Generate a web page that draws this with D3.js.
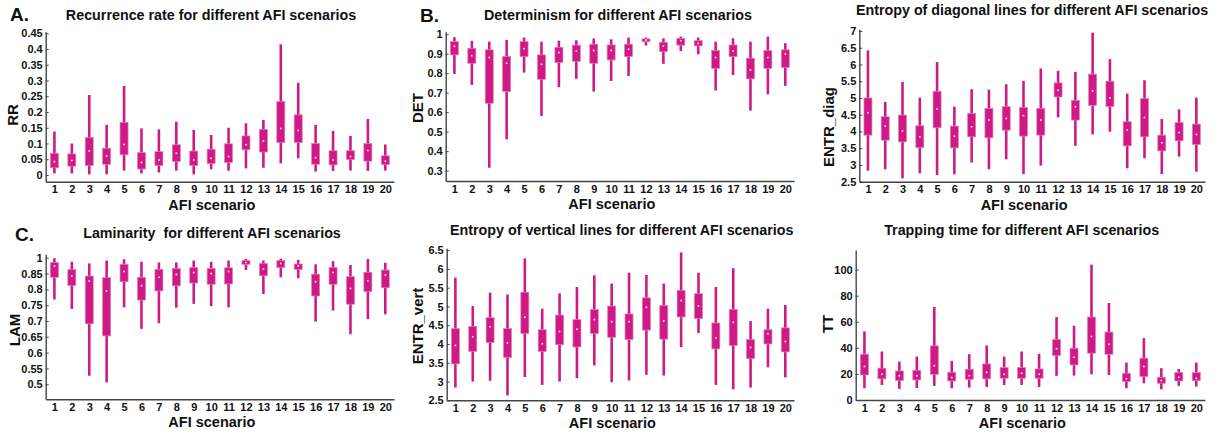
<!DOCTYPE html>
<html>
<head>
<meta charset="utf-8">
<script src="https://cdn.jsdelivr.net/npm/d3@7"></script>
<style>
  body { margin: 0; background: #fff; }
  svg text { font-family: "Helvetica Neue", Arial, "Liberation Sans", sans-serif; font-weight: bold; fill: #111; }
</style>
</head>
<body>
<svg id="chart" width="1229" height="437"></svg>
<script>
// AFI scenarios (x categories)
const scenarios = [1, 2, 3, 4, 5, 6, 7, 8, 9, 10, 11, 12, 13, 14, 15, 16, 17, 18, 19, 20];

// each row: [whisker low, q1, median, q3, whisker high]
const rrStats = [
  [0.005, 0.023, 0.042, 0.069, 0.138], [0.005, 0.028, 0.046, 0.067, 0.100],
  [0.002, 0.030, 0.076, 0.119, 0.254], [0.002, 0.034, 0.060, 0.085, 0.159],
  [0.014, 0.064, 0.097, 0.167, 0.283], [0.005, 0.019, 0.040, 0.071, 0.148],
  [0.008, 0.030, 0.048, 0.074, 0.145], [0.014, 0.043, 0.069, 0.096, 0.169],
  [0.002, 0.030, 0.048, 0.076, 0.143], [0.018, 0.037, 0.053, 0.082, 0.127],
  [0.014, 0.040, 0.059, 0.099, 0.150], [0.021, 0.080, 0.096, 0.124, 0.164],
  [0.023, 0.073, 0.108, 0.145, 0.175], [0.037, 0.103, 0.148, 0.233, 0.415],
  [0.053, 0.103, 0.141, 0.191, 0.293], [0.011, 0.034, 0.055, 0.100, 0.159],
  [0.013, 0.032, 0.048, 0.077, 0.140], [0.014, 0.049, 0.059, 0.077, 0.124],
  [0.013, 0.044, 0.078, 0.100, 0.178], [0.014, 0.033, 0.044, 0.061, 0.097]
];

const detStats = [
  [0.796, 0.894, 0.938, 0.962, 0.985], [0.740, 0.851, 0.890, 0.928, 0.966],
  [0.315, 0.646, 0.880, 0.920, 0.962], [0.461, 0.706, 0.851, 0.885, 0.971],
  [0.803, 0.885, 0.925, 0.962, 0.983], [0.581, 0.769, 0.846, 0.894, 0.962],
  [0.728, 0.855, 0.906, 0.933, 0.967], [0.771, 0.861, 0.914, 0.944, 0.969],
  [0.706, 0.851, 0.916, 0.949, 0.978], [0.760, 0.868, 0.916, 0.945, 0.974],
  [0.786, 0.885, 0.923, 0.949, 0.983], [0.942, 0.962, 0.971, 0.976, 0.983],
  [0.848, 0.911, 0.940, 0.959, 0.979], [0.914, 0.944, 0.966, 0.979, 0.988],
  [0.897, 0.940, 0.954, 0.967, 0.983], [0.711, 0.825, 0.880, 0.916, 0.962],
  [0.791, 0.885, 0.914, 0.945, 0.979], [0.608, 0.771, 0.817, 0.877, 0.962],
  [0.692, 0.825, 0.880, 0.916, 0.988], [0.735, 0.829, 0.899, 0.920, 0.954]
];

const diagStats = [
  [2.83, 3.89, 4.56, 5.00, 6.42], [2.87, 3.74, 4.16, 4.44, 4.88],
  [2.60, 3.69, 4.01, 4.49, 5.48], [2.75, 3.52, 3.84, 4.17, 5.01],
  [2.70, 4.11, 4.67, 5.20, 6.07], [2.72, 3.51, 3.86, 4.16, 4.74],
  [3.07, 3.84, 4.14, 4.54, 5.26], [2.87, 3.81, 4.34, 4.69, 5.25],
  [3.17, 4.04, 4.39, 4.74, 5.41], [2.73, 3.86, 4.47, 4.72, 5.51],
  [2.98, 3.89, 4.34, 4.69, 5.88], [4.42, 5.03, 5.23, 5.45, 5.81],
  [3.57, 4.34, 4.74, 4.93, 5.78], [3.91, 4.78, 5.21, 5.71, 6.95],
  [3.99, 4.75, 5.00, 5.50, 6.16], [2.90, 3.57, 4.04, 4.29, 5.13],
  [3.20, 3.84, 4.42, 4.98, 5.53], [2.73, 3.42, 3.66, 3.89, 4.37],
  [3.25, 3.72, 3.97, 4.27, 4.66], [2.80, 3.61, 3.91, 4.22, 5.01]
];

// LAM values are read against the tick positions (top tick sits where 0.9 would be)
const lamStats = [
  [0.768, 0.838, 0.874, 0.885, 0.898], [0.738, 0.812, 0.842, 0.863, 0.887],
  [0.527, 0.691, 0.826, 0.842, 0.882], [0.506, 0.653, 0.795, 0.837, 0.891],
  [0.743, 0.824, 0.856, 0.879, 0.895], [0.675, 0.766, 0.811, 0.838, 0.887],
  [0.693, 0.795, 0.838, 0.863, 0.885], [0.742, 0.811, 0.847, 0.866, 0.885],
  [0.754, 0.820, 0.853, 0.869, 0.891], [0.747, 0.816, 0.850, 0.866, 0.887],
  [0.743, 0.817, 0.856, 0.868, 0.891], [0.861, 0.879, 0.885, 0.891, 0.896],
  [0.785, 0.843, 0.864, 0.882, 0.891], [0.838, 0.869, 0.882, 0.891, 0.897],
  [0.835, 0.863, 0.874, 0.880, 0.893], [0.698, 0.779, 0.824, 0.848, 0.879],
  [0.733, 0.816, 0.853, 0.869, 0.889], [0.658, 0.753, 0.803, 0.840, 0.877],
  [0.706, 0.793, 0.827, 0.854, 0.896], [0.721, 0.805, 0.845, 0.861, 0.884]
];

const vertStats = [
  [2.84, 3.47, 3.96, 4.41, 5.77], [3.00, 3.80, 4.19, 4.47, 5.01],
  [3.02, 4.04, 4.46, 4.70, 5.37], [2.63, 3.64, 4.03, 4.41, 5.32],
  [3.12, 4.28, 4.71, 5.38, 6.28], [2.91, 3.80, 4.01, 4.38, 4.94],
  [3.00, 3.98, 4.33, 4.77, 5.35], [3.09, 3.92, 4.39, 4.65, 5.52],
  [3.43, 4.28, 4.65, 4.92, 5.83], [2.98, 4.18, 4.59, 5.01, 5.61],
  [3.03, 4.12, 4.59, 4.80, 5.90], [3.18, 4.37, 4.98, 5.23, 5.84],
  [3.16, 4.13, 4.61, 5.03, 5.61], [3.92, 4.72, 5.16, 5.43, 6.44],
  [4.29, 4.68, 5.01, 5.34, 5.90], [2.91, 3.87, 4.16, 4.56, 5.52],
  [2.79, 3.96, 4.58, 4.92, 6.02], [2.84, 3.61, 3.91, 4.12, 4.61],
  [3.38, 4.00, 4.27, 4.38, 4.94], [3.11, 3.79, 4.07, 4.43, 5.04]
];

const ttStats = [
  [9.0, 19.2, 25.6, 35.1, 52.6], [11.5, 16.2, 19.7, 24.4, 37.2],
  [8.5, 14.9, 18.5, 22.3, 29.5], [9.2, 15.4, 18.5, 22.8, 33.3],
  [10.8, 19.7, 26.2, 41.5, 71.3], [9.0, 14.6, 17.2, 21.3, 30.0],
  [9.5, 15.9, 18.5, 23.6, 35.1], [10.0, 16.2, 21.3, 27.7, 41.8],
  [11.5, 16.7, 19.7, 24.9, 33.3], [11.5, 16.7, 20.5, 24.9, 37.2],
  [10.0, 16.7, 19.7, 23.8, 35.4], [18.5, 34.1, 39.2, 46.4, 63.6],
  [18.7, 26.9, 32.8, 39.7, 56.9], [19.7, 35.9, 48.7, 63.6, 103.8],
  [19.2, 35.1, 42.8, 52.1, 74.4], [9.0, 14.1, 16.2, 20.5, 28.7],
  [12.8, 17.9, 25.6, 32.1, 47.4], [8.2, 12.8, 14.9, 17.4, 24.4],
  [10.8, 14.6, 17.4, 21.0, 23.8], [10.3, 14.9, 16.7, 21.0, 28.7]
];

// tick values / labels
const rrTicks = [0, 0.05, 0.1, 0.15, 0.2, 0.25, 0.3, 0.35, 0.4, 0.45];
const rrTickLabels = ["0", "0.05", "0.1", "0.15", "0.2", "0.25", "0.3", "0.35", "0.4", "0.45"];
const detTicks = [0.3, 0.4, 0.5, 0.6, 0.7, 0.8, 0.9, 1];
const detTickLabels = ["0.3", "0.4", "0.5", "0.6", "0.7", "0.8", "0.9", "1"];
const diagTicks = [2.5, 3, 3.5, 4, 4.5, 5, 5.5, 6, 6.5, 7];
const diagTickLabels = ["2.5", "3", "3.5", "4", "4.5", "5", "5.5", "6", "6.5", "7"];
const lamTicks = [0.5, 0.55, 0.6, 0.65, 0.7, 0.75, 0.8, 0.85, 0.9];
const lamTickLabels = ["0.5", "0.55", "0.6", "0.65", "0.7", "0.75", "0.8", "0.85", "1"];
const vertTicks = [2.5, 3, 3.5, 4, 4.5, 5, 5.5, 6, 6.5];
const vertTickLabels = ["2.5", "3", "3.5", "4", "4.5", "5", "5.5", "6", "6.5"];
const ttTicks = [0, 20, 40, 60, 80, 100];
const ttTickLabels = ["0", "20", "40", "60", "80", "100"];

const MAGENTA = "#cf1a85";

const svg = d3.select("#chart");

function drawPanel(p) {
    const g = svg.append("g");

    const x = d3.scaleLinear().domain([0.5, 20.5]).range([p.left, p.right]);
    const y = d3.scaleLinear().domain(p.domain).range([p.bottom, p.top]);

    // whiskers
    g.selectAll(".whisker")
        .data(p.stats)
        .enter()
        .append("line")
        .attr("x1", (d, i) => x(scenarios[i]))
        .attr("x2", (d, i) => x(scenarios[i]))
        .attr("y1", d => y(d[0]))
        .attr("y2", d => y(d[4]))
        .attr("stroke", MAGENTA)
        .attr("stroke-width", 2.6);

    // boxes
    g.selectAll(".box")
        .data(p.stats)
        .enter()
        .append("rect")
        .attr("x", (d, i) => x(scenarios[i]) - 4)
        .attr("width", 8)
        .attr("y", d => y(d[3]))
        .attr("height", d => Math.max(1.5, y(d[1]) - y(d[3])))
        .attr("fill", MAGENTA)
        .attr("stroke", "#e27bb7")
        .attr("stroke-width", 0.7);

    // median dots
    g.selectAll(".med")
        .data(p.stats)
        .enter()
        .append("circle")
        .attr("cx", (d, i) => x(scenarios[i]))
        .attr("cy", d => y(d[2]))
        .attr("r", 1)
        .attr("fill", "#f6d3e6");

    // axes
    const yAxis = d3.axisLeft(y)
        .tickValues(p.ticks)
        .tickFormat((d, i) => p.tickLabels[i])
        .tickSizeInner(-3)
        .tickSizeOuter(0)
        .tickPadding(3);
    const ya = g.append("g").attr("transform", `translate(${p.left},0)`).call(yAxis);

    const xAxis = d3.axisBottom(x)
        .tickValues(scenarios)
        .tickFormat(d3.format("d"))
        .tickSize(0)
        .tickPadding(4);
    const xa = g.append("g").attr("transform", `translate(0,${p.bottom})`).call(xAxis);

    [ya, xa].forEach(a => {
        a.select(".domain").attr("stroke", "#444").attr("stroke-width", 1.4);
        a.selectAll(".tick line").attr("stroke", "#444");
        a.selectAll("text").style("font-size", "11px").attr("fill", "#111");
    });

    // titles and labels
    g.append("text")
        .attr("x", p.titleX).attr("y", p.titleY)
        .attr("text-anchor", "middle")
        .style("font-size", "14.3px")
        .style("white-space", "pre")
        .text(p.title);

    g.append("text")
        .attr("x", p.left + (p.right - p.left) / 2 - 8).attr("y", p.bottom + 28)
        .attr("text-anchor", "middle")
        .style("font-size", "14.5px")
        .text("AFI scenario");

    g.append("text")
        .attr("transform", `translate(${p.left - p.ylabOffset},${p.ylabY}) rotate(-90)`)
        .attr("text-anchor", "middle")
        .style("font-size", "15px")
        .text(p.ylabel);

    if (p.letter) {
        g.append("text")
            .attr("x", p.letterX).attr("y", p.letterY)
            .style("font-size", "19px")
            .style("font-weight", "900")
            .text(p.letter);
    }
}

drawPanel({ stats: rrStats, ticks: rrTicks, tickLabels: rrTickLabels, domain: [-0.0213, 0.455],
    left: 45.7, right: 394, top: 31.7, bottom: 181.7,
    title: "Recurrence rate for different AFI scenarios", titleX: 211, titleY: 20,
    ylabel: "RR", ylabOffset: 28, ylabY: 115, letter: "A.", letterX: 10, letterY: 21 });

drawPanel({ stats: detStats, ticks: detTicks, tickLabels: detTickLabels, domain: [0.247, 1.013],
    left: 445.7, right: 794, top: 31.7, bottom: 181,
    title: "Determinism for different AFI scenarios", titleX: 618, titleY: 20,
    ylabel: "DET", ylabOffset: 23, ylabY: 108, letter: "B.", letterX: 420, letterY: 22 });

drawPanel({ stats: diagStats, ticks: diagTicks, tickLabels: diagTickLabels, domain: [2.5, 7.05],
    left: 859.3, right: 1205, top: 29.3, bottom: 181.7,
    title: "Entropy of diagonal lines for different AFI scenarios", titleX: 1032, titleY: 15,
    ylabel: "ENTR_diag", ylabOffset: 25, ylabY: 127 });

drawPanel({ stats: lamStats, ticks: lamTicks, tickLabels: lamTickLabels, domain: [0.4526, 0.9107],
    left: 45.7, right: 394, top: 254.3, bottom: 399.3,
    title: "Laminarity  for different AFI scenarios", titleX: 212, titleY: 238,
    ylabel: "LAM", ylabOffset: 26, ylabY: 330, letter: "C.", letterX: 15, letterY: 241 });

drawPanel({ stats: vertStats, ticks: vertTicks, tickLabels: vertTickLabels, domain: [2.5, 6.55],
    left: 446.7, right: 794, top: 248.3, bottom: 400.3,
    title: "Entropy of vertical lines for different AFI scenarios", titleX: 621.7, titleY: 234.5,
    ylabel: "ENTR_vert", ylabOffset: 24, ylabY: 326 });

drawPanel({ stats: ttStats, ticks: ttTicks, tickLabels: ttTickLabels, domain: [0, 115],
    left: 855.7, right: 1205, top: 250, bottom: 400,
    title: "Trapping time for different AFI scenarios", titleX: 1021.7, titleY: 235,
    ylabel: "TT", ylabOffset: 23, ylabY: 324 });
</script>
</body>
</html>
